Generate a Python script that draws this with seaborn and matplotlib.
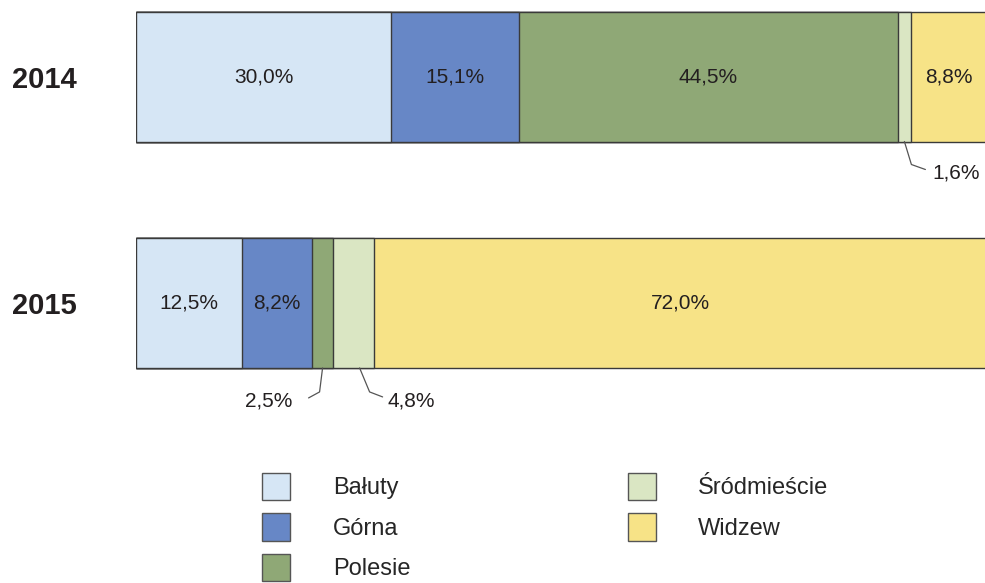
import numpy as np
import pandas as pd
import seaborn as sns
import matplotlib.pyplot as plt
from matplotlib.patches import Patch
from matplotlib.lines import Line2D
from matplotlib.transforms import IdentityTransform

# dane
lata = ["2014", "2015"]
dzielnice = ["Bałuty", "Górna", "Polesie", "Śródmieście", "Widzew"]
udzialy_2014 = [30.0, 15.1, 44.5, 1.6, 8.8]
udzialy_2015 = [12.5, 8.2, 2.5, 4.8, 72.0]
kolory = ["#D6E6F5", "#6787C6", "#8FA876", "#DAE6C3", "#F7E387"]

sns.set_style("white")
plt.rcParams["font.family"] = ["Liberation Sans", "DejaVu Sans"]

df = pd.DataFrame([udzialy_2014, udzialy_2015], index=lata, columns=dzielnice)
cum = df.cumsum(axis=1)

fig = plt.figure(figsize=(9.85, 5.83), dpi=100)
ax = fig.add_axes([136 / 985, 1 - 420 / 583, 850 / 985, 420 / 583])

# stacked bars: cumulative sums drawn from the widest down
for d, kol in reversed(list(zip(dzielnice, kolory))):
    sns.barplot(x=cum[d].values, y=lata, orient="h", color=kol, width=0.574,
                edgecolor="#3a3a3a", linewidth=1.0, saturation=1, ax=ax)

ax.set_xlim(0, 100)
ax.set_ylim(1.517, -0.338)
sns.despine(ax=ax, left=True, bottom=True)
ax.set_xticks([])
ax.tick_params(axis="y", length=0, pad=43)
for t in ax.get_yticklabels():
    t.set_fontsize(21)
    t.set_fontweight("bold")
    t.set_color("#231f20")
ax.set_xlabel("")
ax.set_ylabel("")

# etykiety; male wartosci z linia odniesienia (offsety w pikselach)
odnosniki = {
    ("2014", "Śródmieście"): ([(0, 0), (7, 23), (21, 28)], (28, 31), "left"),
    ("2015", "Polesie"): ([(0, 0), (-3, 24), (-14, 30)], (-30, 33), "right"),
    ("2015", "Śródmieście"): ([(6, 0), (16, 24), (29, 29)], (34, 33), "left"),
}
h = 0.574
for i, rok in enumerate(lata):
    for d in dzielnice:
        v = df.loc[rok, d]
        xc = cum.loc[rok, d] - v / 2
        txt = f"{v:.1f}%".replace(".", ",")
        if v >= 5:
            ax.text(xc, i, txt, ha="center", va="center", fontsize=15, color="#231f20")
        else:
            pts, toff, ha = odnosniki[(rok, d)]
            x0, y0 = ax.transData.transform((xc, i + h / 2))
            fig.add_artist(Line2D([x0 + dx for dx, dy in pts], [y0 - dy for dx, dy in pts],
                                  transform=IdentityTransform(), color="#555555", lw=0.9))
            ax.annotate(txt, xy=(xc, i + h / 2), xytext=(toff[0], -toff[1]),
                        textcoords="offset pixels", ha=ha, va="center",
                        fontsize=15, color="#231f20", annotation_clip=False)

uchwyty = [Patch(facecolor=k, edgecolor="#555555", linewidth=1.0) for k in kolory]
fig.legend(uchwyty, dzielnice, ncol=2, loc="upper left",
           bbox_to_anchor=(262 / 985, 1 - 473 / 583), frameon=False,
           fontsize=17, handlelength=1.2, handleheight=1.4, handletextpad=1.8,
           columnspacing=9.2, labelspacing=0.55, borderpad=0, borderaxespad=0)

fig.savefig("out.png", dpi=100)
